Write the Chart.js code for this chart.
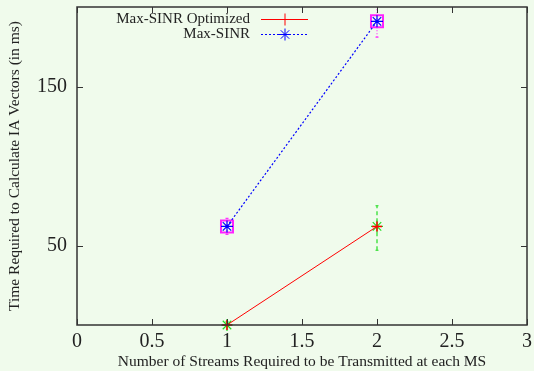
<!DOCTYPE html>
<html>
<head>
<meta charset="utf-8">
<title>IA vector computation time</title>
<script src="https://cdn.jsdelivr.net/npm/chart.js@4/dist/chart.umd.min.js"></script>
<style>
    html, body { margin: 0; padding: 0; background: #f0fbec; }
    #wrap { width: 534px; height: 371px; }
</style>
</head>
<body>
<div id="wrap"><canvas id="chart" width="534" height="371"></canvas></div>
<script>
// --- data ---
const streams = [1, 2];
const optimizedTime = [0, 62];
const optimizedLow = [-2, 47];
const optimizedHigh = [2, 75];
const maxSinrTime = [62, 191];
const maxSinrLow = [57, 181];
const maxSinrHigh = [67, 201];
const xTicks = [0, 0.5, 1, 1.5, 2, 2.5, 3];
const yTicks = [50, 150];
const seriesNames = ['Max-SINR Optimized', 'Max-SINR'];

const serif = "'Liberation Serif', 'DejaVu Serif', serif";
const ink = '#222';

function points(xs, ys) {
    return xs.map((x, i) => ({ x: x, y: ys[i] }));
}

// vertical error bars, drawn under the lines
const errorBars = {
    id: 'errorBars',
    beforeDatasetsDraw(chart) {
        const { ctx, chartArea, scales: { x, y } } = chart;
        const sets = [
            { low: optimizedLow, high: optimizedHigh, color: '#22dd22', dash: [4, 3], cap: 3 },
            { low: maxSinrLow, high: maxSinrHigh, color: '#ff33ff', dash: [1, 2], cap: 3 }
        ];
        ctx.save();
        ctx.beginPath();
        ctx.rect(chartArea.left, chartArea.top, chartArea.right - chartArea.left, chartArea.bottom - chartArea.top);
        ctx.clip();
        sets.forEach(s => {
            ctx.strokeStyle = s.color;
            ctx.lineWidth = 1.2;
            streams.forEach((v, i) => {
                const px = x.getPixelForValue(v);
                const yl = y.getPixelForValue(s.low[i]);
                const yh = y.getPixelForValue(s.high[i]);
                ctx.setLineDash(s.dash);
                ctx.beginPath();
                ctx.moveTo(px, yl);
                ctx.lineTo(px, yh);
                ctx.stroke();
                ctx.setLineDash([]);
                ctx.beginPath();
                ctx.moveTo(px - s.cap / 2, yl); ctx.lineTo(px + s.cap / 2, yl);
                ctx.moveTo(px - s.cap / 2, yh); ctx.lineTo(px + s.cap / 2, yh);
                ctx.stroke();
            });
        });
        ctx.restore();
    }
};

// gnuplot style frame with inward ticks on all sides, plus key
const frame = {
    id: 'frame',
    afterDraw(chart) {
        const { ctx, chartArea: a, scales: { x, y } } = chart;
        ctx.save();
        ctx.strokeStyle = '#333';
        ctx.lineWidth = 1.5;
        ctx.strokeRect(a.left, a.top, a.right - a.left, a.bottom - a.top);
        ctx.lineWidth = 1;
        ctx.beginPath();
        xTicks.forEach(v => {
            const px = Math.round(x.getPixelForValue(v)) + 0.5;
            ctx.moveTo(px, a.bottom); ctx.lineTo(px, a.bottom - 6);
            ctx.moveTo(px, a.top); ctx.lineTo(px, a.top + 6);
        });
        yTicks.forEach(v => {
            const py = Math.round(y.getPixelForValue(v)) + 0.5;
            ctx.moveTo(a.left, py); ctx.lineTo(a.left + 6, py);
            ctx.moveTo(a.right, py); ctx.lineTo(a.right - 6, py);
        });
        ctx.stroke();

        // key
        ctx.font = '15px ' + serif;
        ctx.fillStyle = ink;
        ctx.textAlign = 'right';
        ctx.textBaseline = 'middle';
        const rows = [
            { y: 19.5, color: '#ff0000', dash: [], style: 'cross' },
            { y: 34.5, color: '#0000ff', dash: [2, 2], style: 'star' }
        ];
        rows.forEach((r, i) => {
            ctx.fillText(seriesNames[i], 250, r.y);
            ctx.strokeStyle = r.color;
            ctx.lineWidth = 1;
            ctx.setLineDash(r.dash);
            ctx.beginPath();
            ctx.moveTo(261, r.y); ctx.lineTo(308, r.y);
            ctx.stroke();
            ctx.setLineDash([]);
            Chart.helpers.drawPoint(ctx, { pointStyle: r.style, radius: 6, borderWidth: 1 }, 285, r.y);
        });
        ctx.restore();
    }
};

const ctx = document.getElementById('chart').getContext('2d');
new Chart(ctx, {
    type: 'line',
    data: {
        datasets: [
            {
                label: seriesNames[0],
                data: points(streams, optimizedTime),
                borderColor: '#ff0000',
                borderWidth: 1,
                pointStyle: 'cross',
                pointRadius: 5,
                pointBorderColor: '#ff0000',
                pointBorderWidth: 1.5,
                clip: false,
                order: 1
            },
            {
                label: seriesNames[1],
                data: points(streams, maxSinrTime),
                borderColor: '#0000ff',
                borderWidth: 1.2,
                borderDash: [2, 2],
                pointStyle: 'star',
                pointRadius: 6,
                pointBorderColor: '#0000ff',
                pointBorderWidth: 1.2,
                clip: false,
                order: 0
            },
            {
                label: 'optimized mean',
                data: points(streams, optimizedTime),
                showLine: false,
                pointStyle: 'star',
                pointRadius: 6,
                pointBorderColor: '#22dd22',
                pointBorderWidth: 1.2,
                clip: false,
                order: 3
            },
            {
                label: 'max-sinr mean',
                data: points(streams, maxSinrTime),
                showLine: false,
                pointStyle: 'rect',
                pointRadius: 8.5,
                pointBackgroundColor: 'rgba(0,0,0,0)',
                pointBorderColor: '#ff22ff',
                pointBorderWidth: 2,
                clip: false,
                order: 2
            }
        ]
    },
    options: {
        responsive: false,
        animation: false,
        layout: { autoPadding: false, padding: { top: 7, right: 7, left: 0, bottom: 0 } },
        plugins: {
            legend: { display: false },
            tooltip: { enabled: false }
        },
        scales: {
            x: {
                type: 'linear',
                min: 0,
                max: 3,
                grid: { display: false, drawTicks: false },
                border: { display: false },
                afterBuildTicks: scale => { scale.ticks = xTicks.map(v => ({ value: v })); },
                afterFit: scale => {
                    scale.height = 46;
                    scale.paddingLeft = 0;
                    scale.paddingRight = 0;
                },
                ticks: {
                    callback: v => String(v),
                    color: ink,
                    padding: 5,
                    maxRotation: 0,
                    font: { family: serif, size: 20 }
                },
                title: {
                    display: true,
                    text: 'Number of Streams Required to be Transmitted at each MS',
                    color: ink,
                    padding: { top: 0, bottom: 0 },
                    font: { family: serif, size: 15.5 }
                }
            },
            y: {
                min: 0,
                max: 200,
                grid: { display: false, drawTicks: false },
                border: { display: false },
                afterBuildTicks: scale => { scale.ticks = yTicks.map(v => ({ value: v })); },
                afterFit: scale => {
                    scale.width = 77;
                    scale.paddingTop = 0;
                    scale.paddingBottom = 0;
                },
                ticks: {
                    callback: v => String(v),
                    color: ink,
                    padding: 10,
                    font: { family: serif, size: 20 }
                },
                title: {
                    display: true,
                    text: 'Time Required to Calculate IA Vectors (in ms)',
                    color: ink,
                    padding: { top: 6, bottom: 0 },
                    font: { family: serif, size: 15.5 }
                }
            }
        }
    },
    plugins: [errorBars, frame]
});
</script>
</body>
</html>
